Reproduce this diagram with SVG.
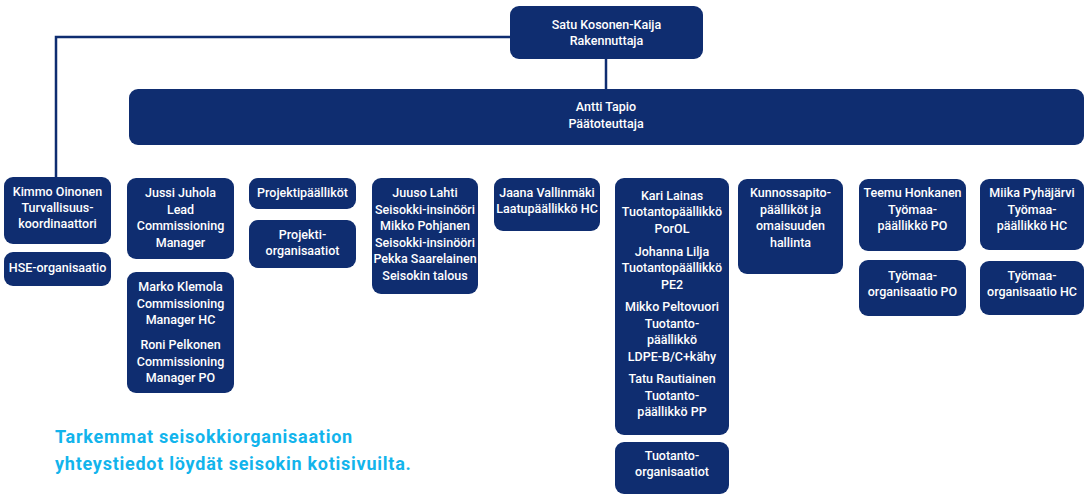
<svg xmlns="http://www.w3.org/2000/svg" width="1084" height="496" viewBox="0 0 1084 496">
<style>
.b{fill:#0f2d70}
.t{fill:#ffffff;font-family:Roboto,"Liberation Sans",sans-serif;font-weight:500;font-size:12.5px;text-anchor:middle}
.c{fill:none;stroke:#0f2d70;stroke-width:2.5}
.n{fill:#12b4ec;font-family:Roboto,"Liberation Sans",sans-serif;font-weight:700;font-size:18px;letter-spacing:0.75px}
</style>
<rect width="1084" height="496" fill="#ffffff"/>
<g id="connectors">
<polyline class="c" points="511,37 56,37 56,178"/>
<line class="c" x1="606" y1="58" x2="606" y2="90"/>
</g>
<g id="satu"><rect class="b" x="510" y="6" width="193" height="53" rx="9"/>
<text class="t" x="606.5" y="29">Satu Kosonen-Kaija</text><text class="t" x="606.5" y="45">Rakennuttaja</text></g>
<g id="antti"><rect class="b" x="129" y="89" width="955" height="56" rx="9"/>
<text class="t" x="606" y="111">Antti Tapio</text><text class="t" x="606" y="128">Päätoteuttaja</text></g>
<g id="kimmo"><rect class="b" x="4" y="177" width="107" height="67" rx="9"/>
<text class="t" x="57.5" y="196">Kimmo Oinonen</text><text class="t" x="57.5" y="212">Turvallisuus-</text><text class="t" x="57.5" y="228">koordinaattori</text></g>
<g id="hse"><rect class="b" x="4" y="252" width="107" height="34" rx="9"/>
<text class="t" x="57.5" y="272">HSE-organisaatio</text></g>
<g id="jussi"><rect class="b" x="127" y="178" width="107" height="81" rx="9"/>
<text class="t" x="180.5" y="197">Jussi Juhola</text><text class="t" x="180.5" y="213.5">Lead</text><text class="t" x="180.5" y="230">Commissioning</text><text class="t" x="180.5" y="246.5">Manager</text></g>
<g id="marko"><rect class="b" x="127" y="272" width="107" height="121" rx="9"/>
<text class="t" x="180.5" y="291">Marko Klemola</text><text class="t" x="180.5" y="307.5">Commissioning</text><text class="t" x="180.5" y="324">Manager HC</text>
<text class="t" x="180.5" y="349">Roni Pelkonen</text><text class="t" x="180.5" y="365.5">Commissioning</text><text class="t" x="180.5" y="382">Manager PO</text></g>
<g id="projektipaalliko"><rect class="b" x="249" y="178" width="107" height="31" rx="9"/>
<text class="t" x="302.5" y="197">Projektipäälliköt</text></g>
<g id="projektiorg"><rect class="b" x="249" y="220" width="107" height="48" rx="9"/>
<text class="t" x="302.5" y="239">Projekti-</text><text class="t" x="302.5" y="255">organisaatiot</text></g>
<g id="juuso"><rect class="b" x="372" y="178" width="106" height="116" rx="9"/>
<text class="t" x="425" y="197">Juuso Lahti</text><text class="t" x="425" y="213.5">Seisokki-insinööri</text><text class="t" x="425" y="230">Mikko Pohjanen</text><text class="t" x="425" y="246.5">Seisokki-insinööri</text><text class="t" x="425" y="263">Pekka Saarelainen</text><text class="t" x="425" y="279.5">Seisokin talous</text></g>
<g id="jaana"><rect class="b" x="494" y="178" width="106" height="53" rx="9"/>
<text class="t" x="547" y="197">Jaana Vallinmäki</text><text class="t" x="547" y="213">Laatupäällikkö HC</text></g>
<g id="kari"><rect class="b" x="615" y="178" width="114" height="257" rx="9"/>
<text class="t" x="672" y="199.5">Kari Lainas</text><text class="t" x="672" y="216">Tuotantopäällikkö</text><text class="t" x="672" y="232.5">PorOL</text>
<text class="t" x="672" y="255.5">Johanna Lilja</text><text class="t" x="672" y="272">Tuotantopäällikkö</text><text class="t" x="672" y="288.5">PE2</text>
<text class="t" x="672" y="311">Mikko Peltovuori</text><text class="t" x="672" y="327.5">Tuotanto-</text><text class="t" x="672" y="344">päällikkö</text><text class="t" x="672" y="360.5">LDPE-B/C+kähy</text>
<text class="t" x="672" y="383">Tatu Rautiainen</text><text class="t" x="672" y="399.5">Tuotanto-</text><text class="t" x="672" y="416">päällikkö PP</text></g>
<g id="tuotantoorg"><rect class="b" x="615" y="442" width="114" height="52" rx="9"/>
<text class="t" x="672" y="460">Tuotanto-</text><text class="t" x="672" y="476">organisaatiot</text></g>
<g id="kunnossapito"><rect class="b" x="738" y="179" width="105" height="95" rx="9"/>
<text class="t" x="790.5" y="197">Kunnossapito-</text><text class="t" x="790.5" y="213.5">päälliköt ja</text><text class="t" x="790.5" y="230">omaisuuden</text><text class="t" x="790.5" y="246.5">hallinta</text></g>
<g id="teemu"><rect class="b" x="859" y="179" width="107" height="72" rx="9"/>
<text class="t" x="912.5" y="197">Teemu Honkanen</text><text class="t" x="912.5" y="213.5">Työmaa-</text><text class="t" x="912.5" y="230">päällikkö PO</text></g>
<g id="tyomaaorgpo"><rect class="b" x="859" y="260" width="107" height="56" rx="9"/>
<text class="t" x="912.5" y="280">Työmaa-</text><text class="t" x="912.5" y="296">organisaatio PO</text></g>
<g id="miika"><rect class="b" x="980" y="179" width="104" height="71" rx="9"/>
<text class="t" x="1032" y="197">Miika Pyhäjärvi</text><text class="t" x="1032" y="213.5">Työmaa-</text><text class="t" x="1032" y="230">päällikkö HC</text></g>
<g id="tyomaaorghc"><rect class="b" x="980" y="261" width="104" height="54" rx="9"/>
<text class="t" x="1032" y="280">Työmaa-</text><text class="t" x="1032" y="296">organisaatio HC</text></g>
<g id="note">
<text class="n" x="55" y="443">Tarkemmat seisokkiorganisaation</text>
<text class="n" x="55" y="470">yhteystiedot löydät seisokin kotisivuilta.</text>
</g>
</svg>
